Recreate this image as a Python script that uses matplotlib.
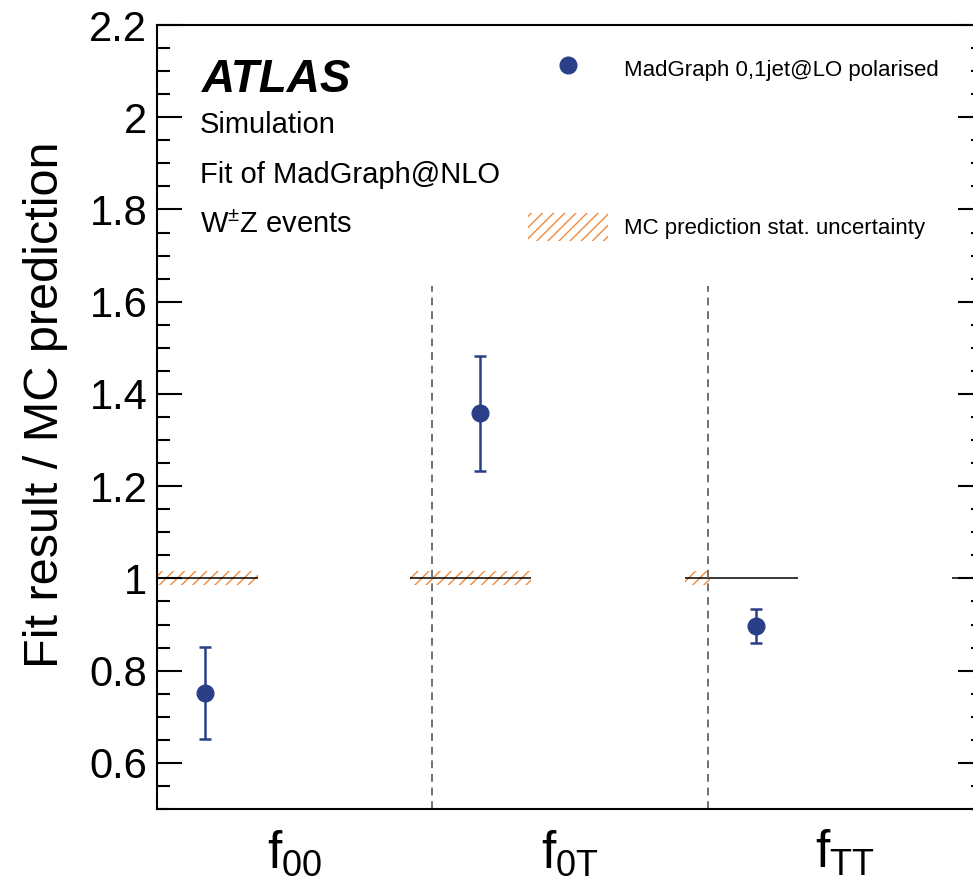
import numpy as np
import matplotlib
matplotlib.use('Agg')
import matplotlib.pyplot as plt
from matplotlib.lines import Line2D
from matplotlib.patches import Patch

plt.rcParams['font.family'] = ['Liberation Sans', 'DejaVu Sans']
plt.rcParams['mathtext.default'] = 'regular'
plt.rcParams['hatch.linewidth'] = 1.0

# data
categories = ['f$_{00}$', 'f$_{0T}$', 'f$_{TT}$']
ratio = [0.752, 1.358, 0.897]
err_up = [0.100, 0.125, 0.037]
err_down = [0.100, 0.125, 0.038]
# reference line (MC prediction = 1) segments and stat. band
ref_lo = [-0.2, 0.92, 1.918, 2.89]
ref_hi = [0.367, 1.36, 2.33, 3.2]
hatch_lo = [-0.2, 0.92, 1.918]
hatch_hi = [0.367, 1.36, 2.01]
band_half = 0.015

blue = '#2b3f88'
orange = '#f08a3c'

fig = plt.figure(figsize=(9.73, 8.88), dpi=100)
ax = fig.add_axes([0.1614, 0.089, 1.01 - 0.1614, 0.9718 - 0.089])

x = np.arange(len(categories))

# stat. uncertainty band and reference line
for lo, hi in zip(hatch_lo, hatch_hi):
    ax.fill_between([lo, hi], [1 - band_half] * 2, [1 + band_half] * 2,
                    facecolor='none', edgecolor=orange, hatch='///', linewidth=0)
ax.hlines([1.0] * len(ref_lo), ref_lo, ref_hi, colors='black', linewidth=1.1)

# category separators
ax.vlines(x[1:], 0.5, 1.635, colors='#707070', linestyles=(0, (4, 3)), linewidth=1.4)

# fit results
ax.errorbar(x + 0.175, ratio, yerr=[err_down, err_up], fmt='o', color=blue,
            markersize=12, elinewidth=1.8, capsize=4, capthick=1.8)

ax.set_xlim(0, 3)
ax.set_ylim(0.5, 2.2)
ax.set_xticks(x + 0.5)
ax.set_xticklabels(categories, fontsize=37)
ax.tick_params(axis='x', length=0, pad=14)
ax.set_yticks(np.arange(0.6, 2.21, 0.2))
ax.set_yticklabels(['%g' % round(v, 1) for v in np.arange(0.6, 2.21, 0.2)])
ax.set_yticks(np.arange(0.5, 2.21, 0.05), minor=True)
ax.tick_params(axis='y', which='both', direction='in', left=True, right=True,
               labelsize=30, pad=7, width=1.5)
ax.tick_params(axis='y', which='major', length=18)
ax.tick_params(axis='y', which='minor', length=9)
for s in ax.spines.values():
    s.set_linewidth(1.5)

ax.set_ylabel('Fit result / MC prediction', fontsize=35)
ax.yaxis.set_label_coords(-0.108, 0.515)

# labels
fig.text(202 / 973, 1 - 92 / 888, 'ATLAS', fontsize=33, fontweight='bold',
         fontstyle='italic', va='baseline')
fig.text(200 / 973, 1 - 133 / 888, 'Simulation', fontsize=21, va='baseline')
fig.text(200 / 973, 1 - 183 / 888, 'Fit of MadGraph@NLO', fontsize=21, va='baseline')
fig.text(200 / 973, 1 - 233 / 888, 'W$^{\\pm}$Z events', fontsize=21, va='baseline')

handles = [Line2D([], [], marker='o', linestyle='none', color=blue, markersize=12),
           Patch(facecolor='none', edgecolor=orange, hatch='///', linewidth=0)]
labels = ['MadGraph 0,1jet@LO polarised', 'MC prediction stat. uncertainty']
ax.legend(handles, labels, loc='upper left', frameon=False, fontsize=16,
          bbox_to_anchor=(528 / 973, 1 - 54.5 / 888), bbox_transform=fig.transFigure,
          borderpad=0, borderaxespad=0, handlelength=3.6, handleheight=1.58,
          handletextpad=0.72, labelspacing=5.86)

plt.savefig('out.png', dpi=100)
